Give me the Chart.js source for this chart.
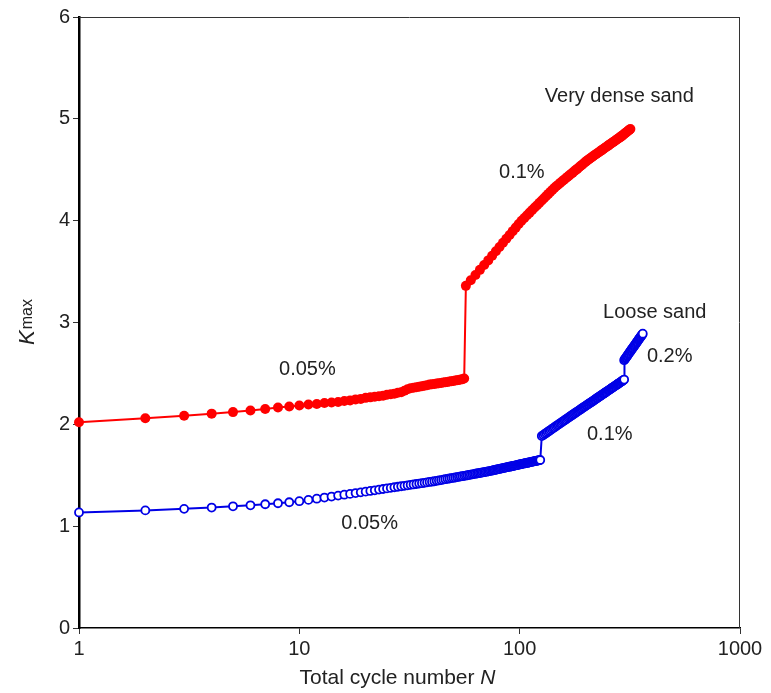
<!DOCTYPE html>
<html>
<head>
<meta charset="utf-8">
<script src="https://cdn.jsdelivr.net/npm/chart.js@4/dist/chart.umd.min.js"></script>
<style>
  html, body { margin: 0; padding: 0; background: #ffffff; }
  #wrap { width: 771px; height: 693px; position: relative; }
</style>
</head>
<body>
<div id="wrap"><canvas id="chart"></canvas></div>
<script>
// K_max versus total cycle number N for two sand densities under stepped strain amplitudes.

// Very dense sand, 0.05% stage: one value per cycle, N = 1 .. 56
const denseStage1Start = 1, denseStage1Step = 1;
const denseStage1 = [
  2.02, 2.06, 2.085, 2.105, 2.12, 2.135, 2.15, 2.165, 2.175, 2.185,
  2.195, 2.20, 2.21, 2.215, 2.22, 2.23, 2.235, 2.245, 2.25, 2.26,
  2.265, 2.27, 2.275, 2.28, 2.29, 2.295, 2.30, 2.31, 2.315, 2.33,
  2.345, 2.355, 2.36, 2.365, 2.37, 2.375, 2.38, 2.385, 2.39, 2.393,
  2.396, 2.40, 2.403, 2.406, 2.41, 2.413, 2.416, 2.42, 2.423, 2.426,
  2.43, 2.433, 2.436, 2.44, 2.443, 2.45
];

// Very dense sand, 0.1% stage: every third cycle, N = 57 .. 318
const denseStage2Start = 57, denseStage2Step = 3;
const denseStage2 = [
  3.36, 3.415, 3.467, 3.517, 3.564, 3.61, 3.656, 3.70, 3.742, 3.783,
  3.822, 3.86, 3.897, 3.932, 3.967, 4.00, 4.027, 4.054, 4.079, 4.104,
  4.129, 4.152, 4.176, 4.198, 4.22, 4.242, 4.263, 4.284, 4.304, 4.324,
  4.341, 4.356, 4.372, 4.387, 4.402, 4.416, 4.431, 4.445, 4.458, 4.472,
  4.485, 4.499, 4.511, 4.524, 4.537, 4.549, 4.561, 4.573, 4.585, 4.596,
  4.606, 4.616, 4.625, 4.635, 4.644, 4.653, 4.662, 4.67, 4.679, 4.688,
  4.696, 4.704, 4.713, 4.721, 4.729, 4.737, 4.745, 4.752, 4.76, 4.768,
  4.775, 4.783, 4.79, 4.797, 4.804, 4.811, 4.818, 4.825, 4.833, 4.84,
  4.848, 4.856, 4.863, 4.871, 4.878, 4.886, 4.893, 4.90
];

// Loose sand, 0.05% stage: one value per cycle, N = 1 .. 124
const looseStage1Start = 1, looseStage1Step = 1;
const looseStage1 = [
  1.135, 1.155, 1.17, 1.183, 1.195, 1.205, 1.215, 1.225, 1.235, 1.245,
  1.258, 1.27, 1.281, 1.291, 1.30, 1.309, 1.317, 1.325, 1.332, 1.339,
  1.346, 1.352, 1.359, 1.365, 1.371, 1.376, 1.382, 1.387, 1.392, 1.396,
  1.401, 1.406, 1.41, 1.414, 1.418, 1.422, 1.426, 1.43, 1.434, 1.437,
  1.441, 1.445, 1.449, 1.453, 1.457, 1.461, 1.465, 1.468, 1.472, 1.475,
  1.478, 1.482, 1.485, 1.488, 1.491, 1.494, 1.497, 1.50, 1.503, 1.506,
  1.509, 1.512, 1.515, 1.517, 1.52, 1.522, 1.525, 1.528, 1.53, 1.533,
  1.535, 1.538, 1.541, 1.543, 1.546, 1.549, 1.552, 1.554, 1.557, 1.56,
  1.562, 1.565, 1.567, 1.57, 1.572, 1.575, 1.577, 1.579, 1.582, 1.584,
  1.586, 1.588, 1.591, 1.593, 1.595, 1.597, 1.599, 1.601, 1.604, 1.606,
  1.608, 1.61, 1.612, 1.614, 1.616, 1.618, 1.62, 1.621, 1.623, 1.625,
  1.627, 1.629, 1.631, 1.633, 1.634, 1.636, 1.638, 1.64, 1.641, 1.643,
  1.645, 1.647, 1.648, 1.65
];

// Loose sand, 0.1% stage: every second cycle, N = 126 .. 296
const looseStage2Start = 126, looseStage2Step = 2;
const looseStage2 = [
  1.885, 1.895, 1.905, 1.915, 1.925, 1.935, 1.944, 1.954, 1.963, 1.972,
  1.981, 1.99, 1.999, 2.007, 2.016, 2.024, 2.032, 2.04, 2.048, 2.056,
  2.064, 2.072, 2.08, 2.087, 2.094, 2.102, 2.109, 2.116, 2.123, 2.13,
  2.137, 2.144, 2.151, 2.158, 2.164, 2.171, 2.177, 2.184, 2.19, 2.196,
  2.202, 2.208, 2.214, 2.22, 2.226, 2.232, 2.238, 2.244, 2.25, 2.256,
  2.261, 2.267, 2.273, 2.278, 2.284, 2.289, 2.294, 2.3, 2.305, 2.31,
  2.315, 2.321, 2.326, 2.331, 2.336, 2.341, 2.346, 2.351, 2.356, 2.361,
  2.366, 2.37, 2.375, 2.38, 2.385, 2.389, 2.394, 2.399, 2.403, 2.408,
  2.412, 2.417, 2.421, 2.426, 2.43, 2.435, 2.44
];

// Loose sand, 0.2% stage: every second cycle, N = 298 .. 362
const looseStage3Start = 298, looseStage3Step = 2;
const looseStage3 = [
  2.63, 2.639, 2.648, 2.657, 2.665, 2.674, 2.683, 2.692, 2.70, 2.709,
  2.717, 2.725, 2.734, 2.742, 2.75, 2.758, 2.766, 2.774, 2.782, 2.79,
  2.798, 2.806, 2.814, 2.822, 2.83, 2.838, 2.845, 2.853, 2.86, 2.868,
  2.875, 2.883, 2.89
];

// Axis tick values
const xTickValues = [1, 10, 100, 1000];
const yTickValues = [0, 1, 2, 3, 4, 5, 6];

// Pair each stage's values with its cycle numbers
function stagePoints(first, step, values) {
  return values.map((k, i) => ({ x: first + i * step, y: k }));
}

const denseData = [
  ...stagePoints(denseStage1Start, denseStage1Step, denseStage1),
  ...stagePoints(denseStage2Start, denseStage2Step, denseStage2)
];
const looseData = [
  ...stagePoints(looseStage1Start, looseStage1Step, looseStage1),
  ...stagePoints(looseStage2Start, looseStage2Step, looseStage2),
  ...stagePoints(looseStage3Start, looseStage3Step, looseStage3)
];

const FONT = "'Liberation Sans', Arial, Helvetica, sans-serif";
const TEXT = '#222222';

// Text notes placed in data coordinates (left edge, vertical middle)
const notes = [
  { text: 'Very dense sand', n: 130, k: 5.215 },
  { text: '0.1%', n: 80.6, k: 4.478 },
  { text: '0.05%', n: 8.09, k: 2.534 },
  { text: 'Loose sand', n: 239, k: 3.103 },
  { text: '0.2%', n: 378, k: 2.671 },
  { text: '0.1%', n: 202, k: 1.905 },
  { text: '0.05%', n: 15.5, k: 1.031 }
];

const decorations = {
  id: 'decorations',
  afterDraw(chart) {
    const { ctx, chartArea: a, scales } = chart;
    ctx.save();
    // plot frame
    ctx.strokeStyle = '#333';
    ctx.lineWidth = 1;
    ctx.beginPath();
    ctx.moveTo(a.left, a.top + 0.5);
    ctx.lineTo(a.right, a.top + 0.5);
    ctx.moveTo(a.right - 0.5, a.top);
    ctx.lineTo(a.right - 0.5, a.bottom);
    ctx.stroke();

    // notes
    ctx.fillStyle = TEXT;
    ctx.font = '20px ' + FONT;
    ctx.textAlign = 'left';
    ctx.textBaseline = 'middle';
    notes.forEach(nt => {
      ctx.fillText(nt.text, scales.x.getPixelForValue(nt.n), scales.y.getPixelForValue(nt.k));
    });

    // x axis title with italic N
    const part1 = 'Total cycle number ';
    const part2 = 'N';
    ctx.textBaseline = 'alphabetic';
    ctx.font = '21px ' + FONT;
    const w1 = ctx.measureText(part1).width;
    ctx.font = 'italic 21px ' + FONT;
    const w2 = ctx.measureText(part2).width;
    const cx = (a.left + a.right) / 2 - 12;
    const sx = cx - (w1 + w2) / 2;
    ctx.font = '21px ' + FONT;
    ctx.fillText(part1, sx, 684);
    ctx.font = 'italic 21px ' + FONT;
    ctx.fillText(part2, sx + w1, 684);

    // y axis title K_max
    ctx.translate(0, (a.top + a.bottom) / 2);
    ctx.rotate(-Math.PI / 2);
    ctx.font = 'italic 22px ' + FONT;
    const wk = ctx.measureText('K').width;
    ctx.font = '16px ' + FONT;
    const wm = ctx.measureText('max').width;
    const sy = -(wk + wm) / 2;
    ctx.font = 'italic 22px ' + FONT;
    ctx.fillText('K', sy, 34);
    ctx.font = '16px ' + FONT;
    ctx.fillText('max', sy + wk + 1, 32);
    ctx.restore();
  }
};

new Chart(document.getElementById('chart'), {
  type: 'line',
  data: {
    datasets: [
      {
        label: 'Very dense sand',
        data: denseData,
        borderColor: '#ff0000',
        backgroundColor: '#ff0000',
        borderWidth: 2,
        pointRadius: 5,
        pointBorderWidth: 0,
        pointBackgroundColor: '#ff0000',
        pointHoverRadius: 5,
        tension: 0,
        clip: false
      },
      {
        label: 'Loose sand',
        data: looseData,
        borderColor: '#0000e6',
        backgroundColor: '#ffffff',
        borderWidth: 2,
        pointRadius: 4,
        pointBorderWidth: 1.8,
        pointBorderColor: '#0000e6',
        pointBackgroundColor: '#ffffff',
        pointHoverRadius: 4,
        tension: 0,
        clip: false
      }
    ]
  },
  options: {
    responsive: true,
    maintainAspectRatio: false,
    animation: false,
    events: [],
    layout: { padding: { left: 0, top: 17, right: 31, bottom: 0 } },
    plugins: { legend: { display: false }, tooltip: { enabled: false } },
    scales: {
      x: {
        type: 'logarithmic',
        min: 1,
        max: 1000,
        afterBuildTicks(scale) { scale.ticks = xTickValues.map(v => ({ value: v })); },
        afterFit(scale) { scale.height = 65; },
        ticks: {
          callback: v => String(v),
          font: { family: FONT, size: 20 },
          color: TEXT,
          padding: 3,
          maxRotation: 0,
          autoSkip: false
        },
        grid: { drawOnChartArea: false, drawTicks: true, tickLength: 6, color: '#333', lineWidth: 1 },
        border: { display: true, color: '#000', width: 1.5 }
      },
      y: {
        type: 'linear',
        min: 0,
        max: 6,
        afterBuildTicks(scale) { scale.ticks = yTickValues.map(v => ({ value: v })); },
        afterFit(scale) { scale.width = 79; },
        ticks: {
          callback: v => String(v),
          font: { family: FONT, size: 20 },
          color: TEXT,
          padding: 3
        },
        grid: { drawOnChartArea: false, drawTicks: true, tickLength: 6, color: '#333', lineWidth: 1 },
        border: { display: true, color: '#000', width: 2.5 }
      }
    }
  },
  plugins: [decorations]
});
</script>
</body>
</html>
